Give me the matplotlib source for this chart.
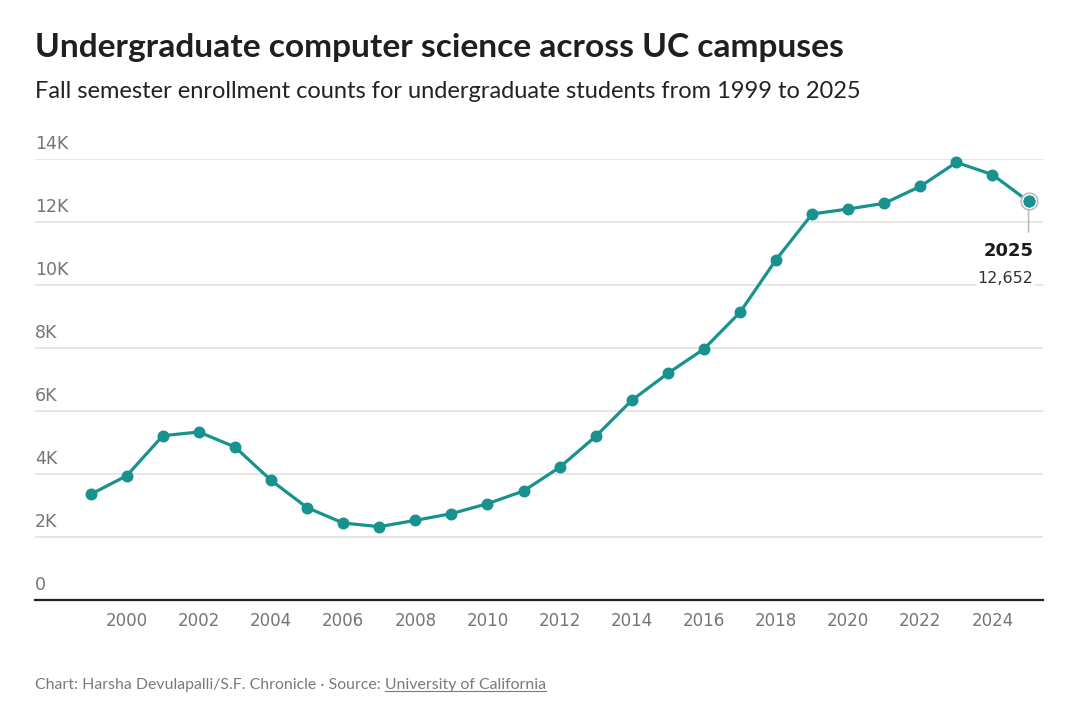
import matplotlib
matplotlib.use("Agg")
import matplotlib.pyplot as plt
from matplotlib.lines import Line2D

years = list(range(1999, 2026))
enrollment = [3355, 3946, 5217, 5333, 4857, 3799, 2931, 2444, 2328, 2529,
              2741, 3058, 3460, 4212, 5195, 6339, 7196, 7968, 9132, 10804,
              12254, 12413, 12593, 13132, 13894, 13503, 12652]
y_ticks = [0, 2000, 4000, 6000, 8000, 10000, 12000, 14000]
y_tick_labels = ["0", "2K", "4K", "6K", "8K", "10K", "12K", "14K"]
x_ticks = list(range(2000, 2025, 2))

title = "Undergraduate computer science across UC campuses"
subtitle = "Fall semester enrollment counts for undergraduate students from 1999 to 2025"
footer_a = "Chart: Harsha Devulapalli/S.F. Chronicle · Source: "
footer_b = "University of California"

TEAL = "#18928f"
GRID = "#e6e6e6"
TICK = "#757575"

W, H = 1080, 714
fig = plt.figure(figsize=(W / 100, H / 100), dpi=100)
fig.patch.set_facecolor("white")

L, R, T, B = 35, 1043, 159, 600
ax = fig.add_axes([L / W, 1 - B / H, (R - L) / W, (B - T) / H])
ax.set_xlim(1997.456, 2025.4)
ax.set_ylim(0, 14000)

for s in ["top", "right", "left"]:
    ax.spines[s].set_visible(False)
ax.spines["bottom"].set_color("#222222")
ax.spines["bottom"].set_linewidth(1.6)
ax.spines["bottom"].set_zorder(5)

ax.set_yticks(y_ticks)
ax.yaxis.grid(True, color=GRID, linewidth=1.4)
ax.set_axisbelow(True)
ax.tick_params(axis="y", length=0, labelleft=False)
for v, lab in zip(y_ticks, y_tick_labels):
    ax.annotate(lab, xy=(0, v), xycoords=("axes fraction", "data"),
                xytext=(0, 4), textcoords="offset points",
                ha="left", va="bottom", fontsize=12.5, color=TICK,
                family="DejaVu Sans")

ax.set_xticks(x_ticks)
ax.set_xticklabels([str(x) for x in x_ticks])
ax.tick_params(axis="x", length=0, pad=9, labelsize=12, labelcolor=TICK)
for lab in ax.get_xticklabels():
    lab.set_family("DejaVu Sans")

ax.plot(years, enrollment, color=TEAL, linewidth=2.3, zorder=3,
        solid_joinstyle="round", clip_on=False)
ax.plot(years, enrollment, linestyle="none", marker="o", markersize=7.6,
        color=TEAL, zorder=4, clip_on=False)

# highlight last point
lx, ly = years[-1], enrollment[-1]
ax.annotate("", xy=(lx, ly), xytext=(0, -22), textcoords="offset points",
            arrowprops=dict(arrowstyle="-", color="#bdbdbd", lw=1.2,
                            shrinkA=0, shrinkB=0), zorder=2)
ax.plot([lx], [ly], marker="o", markersize=12, markerfacecolor="white",
        markeredgecolor="#bdbdbd", markeredgewidth=1.2, zorder=3.5,
        clip_on=False)
ax.plot([lx], [ly], marker="o", markersize=7.6, color=TEAL, zorder=4.5,
        clip_on=False)
ax.annotate(str(lx), xy=(lx, ly), xytext=(3.3, -36), textcoords="offset points",
            ha="right", va="center", fontsize=13, fontweight="bold",
            color="#1a1a1a", family="DejaVu Sans")
ax.annotate(f"{ly:,}", xy=(lx, ly), xytext=(3.3, -55.5), textcoords="offset points",
            ha="right", va="center", fontsize=11.5, color="#333333",
            family="DejaVu Sans",
            bbox=dict(boxstyle="square,pad=0.1", fc="white", ec="none"))

fig.text(L / W, 1 - 47 / H, title, fontsize=24.1, fontweight="bold",
         color="#1f1f1f", family="Lato", va="center", ha="left")
fig.text(L / W, 1 - 92 / H, subtitle, fontsize=17, color="#222222",
         family="Lato", va="center", ha="left")

t1 = fig.text(L / W, 1 - 685 / H, footer_a, fontsize=11.4, color="#7a7a7a",
              family="Lato", va="center", ha="left")
fig.canvas.draw()
r = fig.canvas.get_renderer()
bb1 = t1.get_window_extent(r)
t2 = fig.text(bb1.x1 / W, 1 - 685 / H, footer_b, fontsize=11.4, color="#7a7a7a",
              family="Lato", va="center", ha="left")
fig.canvas.draw()
bb2 = t2.get_window_extent(r)
uy = bb2.y0 + 1.5
fig.add_artist(Line2D([bb2.x0 / W, bb2.x1 / W], [uy / H, uy / H],
                      color="#7a7a7a", linewidth=0.8, transform=fig.transFigure))

fig.savefig("out.png", dpi=100, facecolor="white")
